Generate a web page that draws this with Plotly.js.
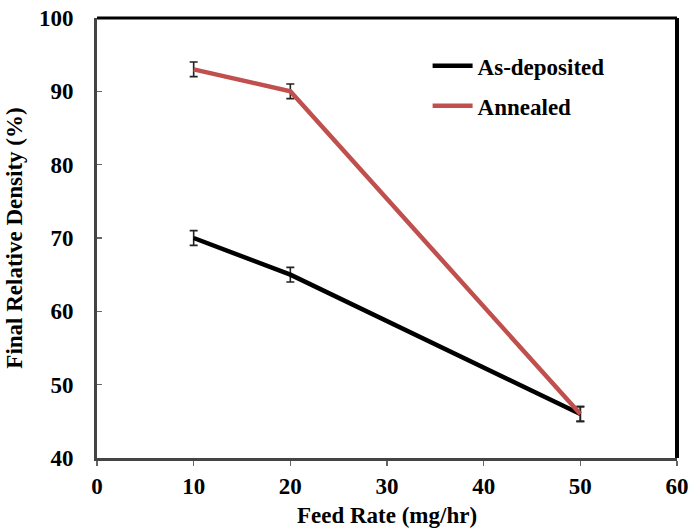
<!DOCTYPE html>
<html>
<head>
<meta charset="utf-8">
<script src="https://cdn.plot.ly/plotly-3.0.1.min.js"></script>
<style>html,body{margin:0;padding:0;background:#fff;}#chart{width:689px;height:529px;}</style>
</head>
<body>
<div id="chart"></div>
<script>
const feedRate = [10, 20, 50];
const asDeposited = [70, 65, 46];
const asDepositedErr = [1, 1, 1];
const annealed = [93, 90, 46];
const annealedErr = [1, 1, 1];
const seriesNames = ["As-deposited", "Annealed"];
const xTicks = [0, 10, 20, 30, 40, 50, 60];
const yTicks = [40, 50, 60, 70, 80, 90, 100];

const font = "Liberation Serif, Times New Roman, serif";
const errStyle = {type: "data", visible: true, color: "#222", thickness: 1.6, width: 4};

const traces = [
  {x: feedRate, y: asDeposited, name: seriesNames[0], mode: "lines", legendgroup: "a",
   line: {color: "#000000", width: 4.5},
   error_y: Object.assign({array: asDepositedErr}, errStyle)},
  {x: feedRate, y: annealed, name: seriesNames[1], mode: "lines", legendgroup: "b",
   line: {color: "#C0504D", width: 4.5},
   error_y: Object.assign({array: annealedErr}, errStyle)}
];

const layout = {
  width: 689, height: 529,
  margin: {l: 97, r: 12, t: 18, b: 71},
  paper_bgcolor: "#fff", plot_bgcolor: "#fff",
  font: {family: font, size: 23, color: "#000"},
  showlegend: true,
  legend: {x: 0.57, y: 0.94, xanchor: "left", yanchor: "top", bgcolor: "rgba(0,0,0,0)",
           font: {family: font, size: 23, color: "#000", weight: "bold"},
           tracegroupgap: 7, itemwidth: 40},
  xaxis: {range: [0, 60], tickvals: xTicks, ticktext: xTicks.map(String),
          showgrid: false, zeroline: false, showline: true, linecolor: "#444", linewidth: 3,
          ticks: "outside", ticklen: 5, tickcolor: "#666", tickwidth: 1.5,
          tickfont: {family: font, size: 23, weight: "bold"},
          title: {text: "Feed Rate (mg/hr)", font: {family: font, size: 23, weight: "bold"}, standoff: 10}},
  yaxis: {range: [40, 100], tickvals: yTicks, ticktext: yTicks.map(String),
          showgrid: false, zeroline: false, showline: true, linecolor: "#444", linewidth: 3,
          ticks: "inside", ticklen: 5, tickcolor: "#666", tickwidth: 1.5,
          ticklabelstandoff: 16,
          tickfont: {family: font, size: 23, weight: "bold"},
          title: {text: "Final Relative Density (%)", font: {family: font, size: 23, weight: "bold"}, standoff: 10}},
  shapes: [
    {type: "line", xref: "paper", yref: "paper", x0: 0, x1: 1, y0: 1, y1: 1, line: {color: "#000", width: 3}},
    {type: "line", xref: "paper", yref: "paper", x0: 1, x1: 1, y0: 0, y1: 1, line: {color: "#000", width: 4}}
  ]
};

Plotly.newPlot("chart", traces, layout, {displayModeBar: false, staticPlot: true});
</script>
</body>
</html>
